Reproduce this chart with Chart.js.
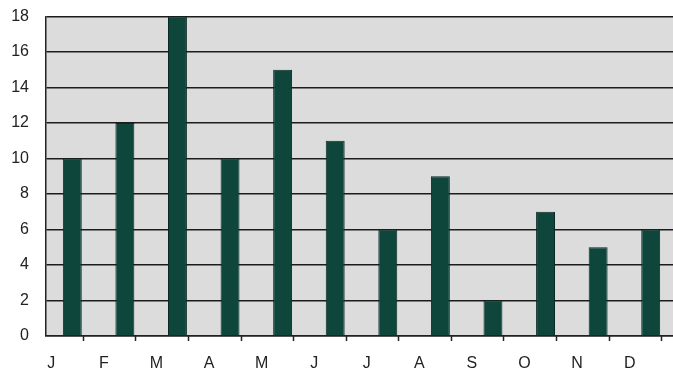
<!DOCTYPE html>
<html>
<head>
<meta charset="utf-8">
<script src="https://cdn.jsdelivr.net/npm/chart.js@4.4.1/dist/chart.umd.min.js"></script>
<style>
  html, body { margin: 0; padding: 0; background: #ffffff; }
  #wrap { position: relative; width: 673px; height: 370px; overflow: hidden; }
  #box { position: absolute; left: 0; top: -10px; width: 677px; height: 380px; }
</style>
</head>
<body>
<div id="wrap"><div id="box"><canvas id="chart"></canvas></div></div>
<script>
// monthly values
const months = ['J', 'F', 'M', 'A', 'M', 'J', 'J', 'A', 'S', 'O', 'N', 'D'];
const counts = [10, 12, 18, 10, 15, 11, 6, 9, 2, 7, 5, 6];
const yTicks = [0, 2, 4, 6, 8, 10, 12, 14, 16, 18];

const labelFont = { family: '"Liberation Sans", Arial, sans-serif', size: 16 };

// grey panel behind the bars
const panelBg = {
    id: 'panelBg',
    beforeDraw(chart) {
        const { ctx, chartArea: a } = chart;
        ctx.save();
        ctx.fillStyle = '#dcdcdc';
        ctx.fillRect(a.left, a.top, a.right - a.left, a.bottom - a.top);
        ctx.restore();
    }
};

// short tick marks under the axis, just right of every bar
const barTicks = {
    id: 'barTicks',
    afterDraw(chart) {
        const { ctx, chartArea: a } = chart;
        const meta = chart.getDatasetMeta(0);
        ctx.save();
        ctx.strokeStyle = '#222';
        ctx.lineWidth = 1.5;
        meta.data.forEach(bar => {
            const x = Math.round(bar.x + bar.width / 2 + 1) + 0.5;
            ctx.beginPath();
            ctx.moveTo(x, a.bottom);
            ctx.lineTo(x, a.bottom + 5);
            ctx.stroke();
        });
        ctx.restore();
    }
};

const ctx = document.getElementById('chart').getContext('2d');
const chart = new Chart(ctx, {
    type: 'bar',
    data: {
        labels: months,
        datasets: [{
            data: counts,
            backgroundColor: '#0f463c',
            borderColor: '#0a2a24',
            borderWidth: 1,
            barPercentage: 0.72,
            categoryPercentage: 0.5
        }]
    },
    options: {
        responsive: true,
        maintainAspectRatio: false,
        animation: false,
        layout: { padding: 0 },
        plugins: {
            legend: { display: false },
            tooltip: { enabled: false }
        },
        scales: {
            x: {
                offset: true,
                afterFit: s => { s.height = 34; },
                grid: { display: false, drawTicks: false },
                border: { color: '#222', width: 1.5 },
                ticks: {
                    color: '#222',
                    padding: 18,
                    labelOffset: -21,
                    maxRotation: 0,
                    font: labelFont
                }
            },
            y: {
                min: 0,
                max: 18,
                afterFit: s => { s.width = 46; },
                afterBuildTicks: s => { s.ticks = yTicks.map(v => ({ value: v })); },
                grid: { color: '#1c1c1c', lineWidth: 1.5, drawTicks: false },
                border: { color: '#222', width: 1.5 },
                ticks: {
                    color: '#222',
                    padding: 17,
                    font: labelFont
                }
            }
        }
    },
    plugins: [panelBg, barTicks]
});
</script>
</body>
</html>
